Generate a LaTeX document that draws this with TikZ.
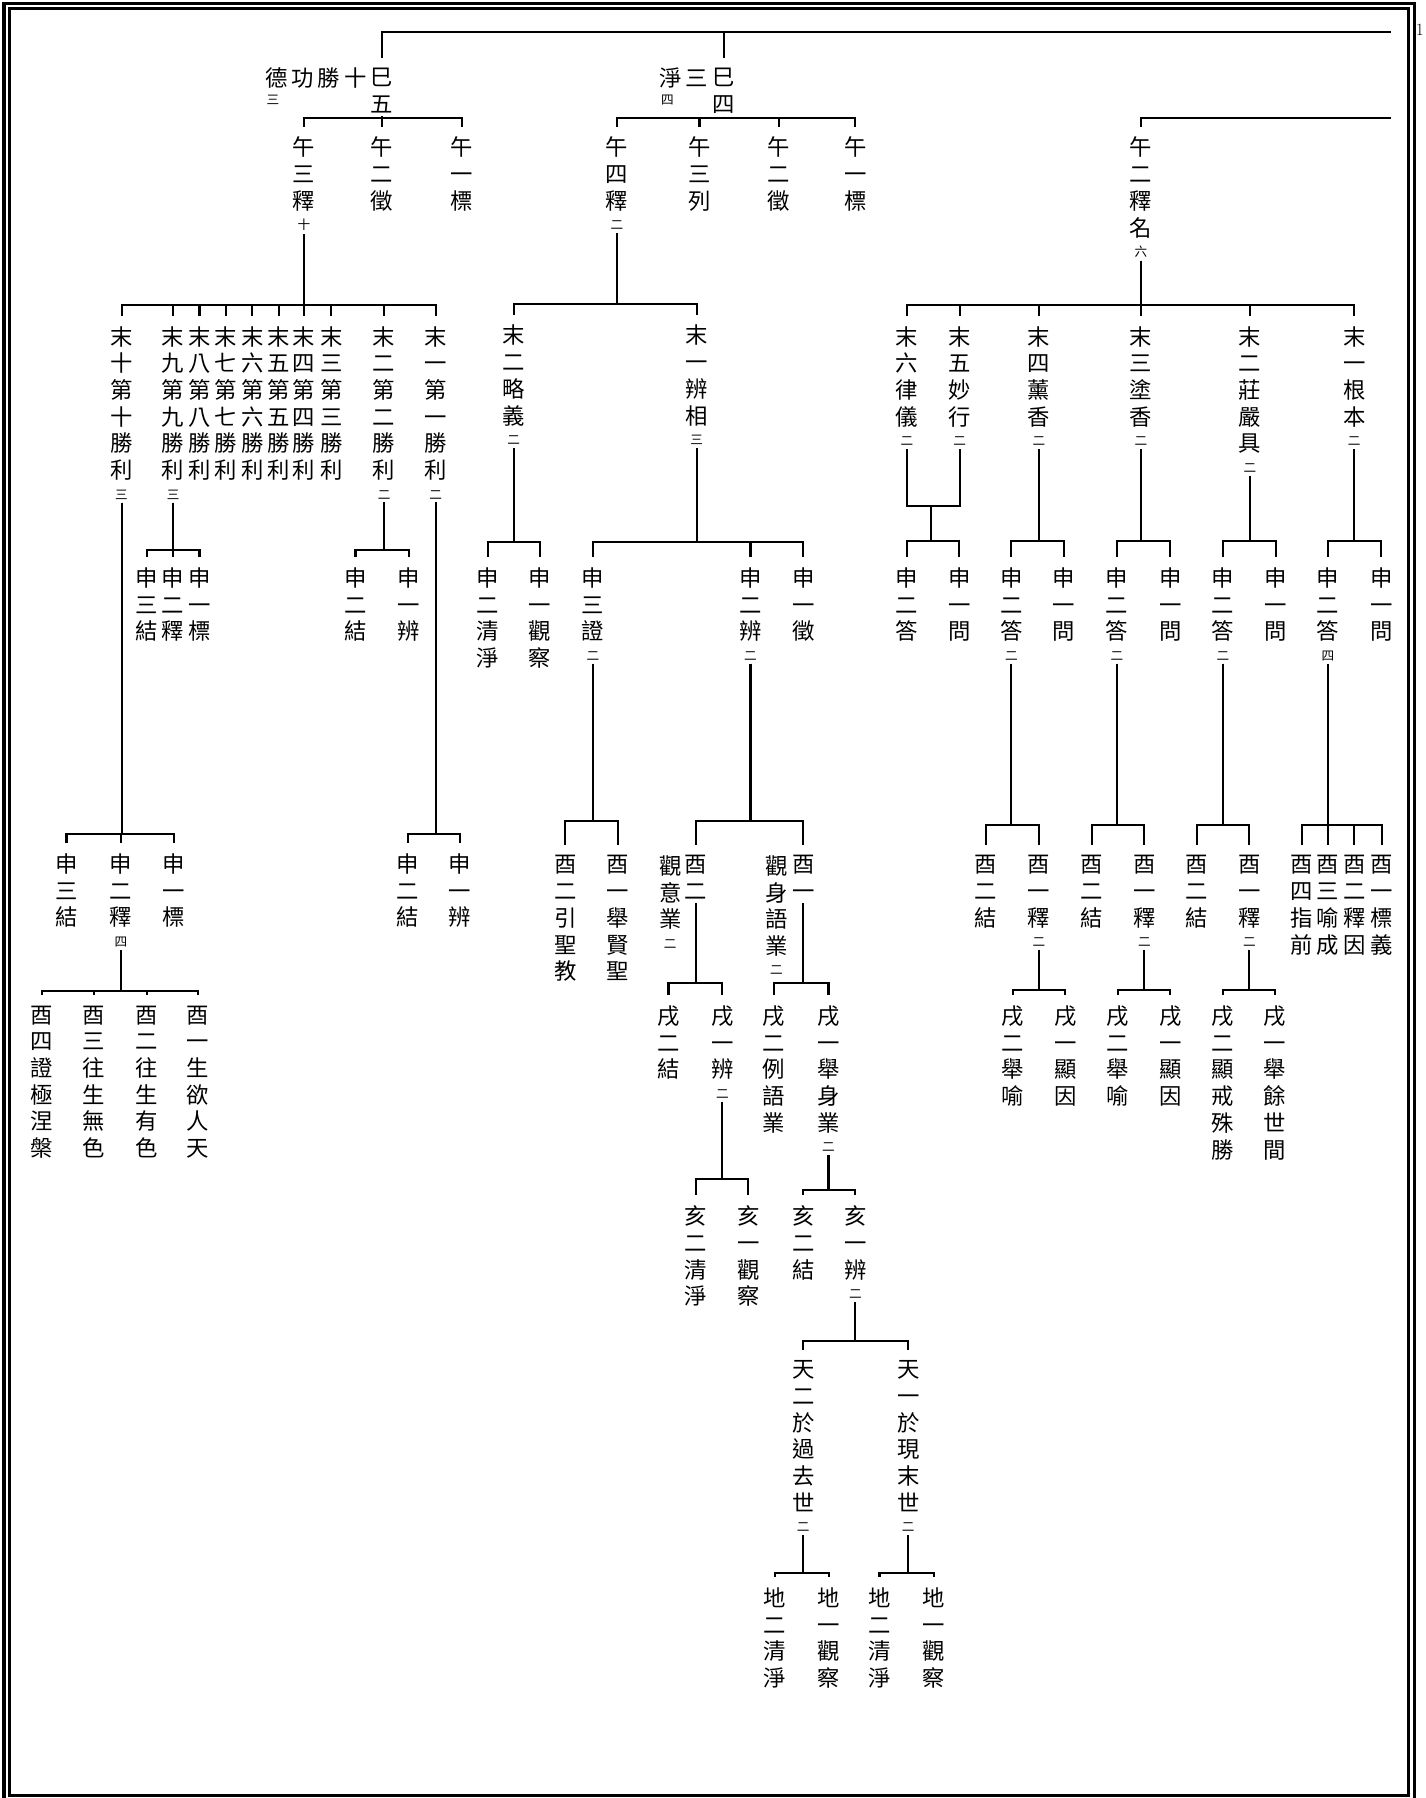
\documentclass[tikz,border=0pt]{standalone}
\usepackage{fontspec}
\newfontfamily\cjk{Noto Sans CJK TC}
\newcommand\sm[1]{\\[-5.5pt]{\fontsize{11}{12}\selectfont #1}}
\newcommand\hz[1]{\makebox[23pt]{#1}}
\tikzset{
  zi/.style={font=\cjk\fontsize{19.5}{23.3}\selectfont, align=center, inner sep=0pt, outer sep=3pt, anchor=north, yshift=11.5pt},
  hzi/.style={font=\cjk\fontsize{19.5}{23.3}\selectfont, inner sep=0pt},
  xs/.style={font=\cjk\fontsize{11}{12}\selectfont, inner sep=0pt}
}
\begin{document}
\begin{tikzpicture}[x=1pt,y=-1pt,line width=1.8pt]
\useasboundingbox (0,0) rectangle (1243,1568);
\fill[white] (0,0) rectangle (1243,1568);
\draw[line width=2.8pt] (3.5,1580) -- (3.5,3) -- (1233.5,3) -- (1233.5,1580);
\draw[line width=2.8pt] (8.5,7.5) rectangle (1228.5,1565.5);
\node[font=\fontsize{15}{15}\selectfont, anchor=east, inner sep=0pt] (pg) at (1242.5,26) {1};

\node[zi] (s5) at (333,68) {巳\\五};
\node[hzi] (s5t) at (275.5,68) {\hz{德}\hz{功}\hz{勝}\hz{十}};
\node[xs] (s5n) at (238,87) {三};
\node[zi] (s4) at (631,68) {巳\\四};
\node[hzi] (s4t) at (596,68) {\hz{淨}\hz{三}};
\node[xs] (s4n) at (582,87) {四};
\coordinate (r0) at (1213,28);
\draw (r0) -| ([yshift=6pt]s5.north);
\draw (s4.north |- r0) -- ([yshift=6pt]s4.north);

\node[zi] (w3) at (265,128) {午\\三\\釋\sm{十}};
\node[zi] (w2) at (333,128) {午\\二\\徵};
\node[zi] (w1) at (403,128) {午\\一\\標};
\foreach \c in {w3,w2,w1} \draw (s5.south) |- (\c.north |- 0,103) -- ([yshift=6pt]\c.north);
\node[zi] (v4) at (538,128) {午\\四\\釋\sm{二}};
\node[zi] (v3) at (610,128) {午\\三\\列};
\node[zi] (v2) at (679,128) {午\\二\\徵};
\node[zi] (v1) at (746,128) {午\\一\\標};
\foreach \c in {v4,v3,v2,v1} \draw (s4.south) |- (\c.north |- 0,103) -- ([yshift=6pt]\c.north);
\node[zi] (u2) at (995,128) {午\\二\\釋\\名\sm{六}};
\coordinate (r1) at (1213,103);
\draw (r1) -| ([yshift=6pt]u2.north);

\node[zi] (m10) at (106,293) {末\\十\\第\\十\\勝\\利\sm{三}};
\node[zi] (m9) at (151,293) {末\\九\\第\\九\\勝\\利\sm{三}};
\node[zi] (m8) at (174,293) {末\\八\\第\\八\\勝\\利};
\node[zi] (m7) at (197,293) {末\\七\\第\\七\\勝\\利};
\node[zi] (m6) at (220,293) {末\\六\\第\\六\\勝\\利};
\node[zi] (m5) at (243,293) {末\\五\\第\\五\\勝\\利};
\node[zi] (m4) at (265,293) {末\\四\\第\\四\\勝\\利};
\node[zi] (m3) at (289,293) {末\\三\\第\\三\\勝\\利};
\node[zi] (m2) at (335,293) {末\\二\\第\\二\\勝\\利\sm{二}};
\node[zi] (m1) at (380,293) {末\\一\\第\\一\\勝\\利\sm{二}};
\foreach \c in {m10,m9,m8,m7,m6,m5,m4,m3,m2,m1} \draw (w3.south) |- (\c.north |- 0,266) -- ([yshift=6pt]\c.north);

\node[zi] (m10c) at (58,753) {申\\三\\結};
\node[zi] (m10b) at (105.5,753) {申\\二\\釋\sm{四}};
\node[zi] (m10a) at (151.5,753) {申\\一\\標};
\foreach \c in {m10c,m10b,m10a} \draw (m10.south) |- (\c.north |- 0,727) -- ([yshift=6pt]\c.north);
\node[zi] (m10b4) at (36.5,885.5) {酉\\四\\證\\極\\涅\\槃};
\node[zi] (m10b3) at (82,885.5) {酉\\三\\往\\生\\無\\色};
\node[zi] (m10b2) at (128,885.5) {酉\\二\\往\\生\\有\\色};
\node[zi] (m10b1) at (172.5,885.5) {酉\\一\\生\\欲\\人\\天};
\foreach \c in {m10b4,m10b3,m10b2,m10b1} \draw (m10b.south) |- (\c.north |- 0,864) -- ([yshift=6pt]\c.north);

\node[zi] (m9c) at (128,503.5) {申\\三\\結};
\node[zi] (m9b) at (151,503.5) {申\\二\\釋};
\node[zi] (m9a) at (174,503.5) {申\\一\\標};
\foreach \c in {m9c,m9b,m9a} \draw (m9.south) |- (\c.north |- 0,480) -- ([yshift=6pt]\c.north);
\node[zi] (m2b) at (310,503.5) {申\\二\\結};
\node[zi] (m2a) at (356.5,503.5) {申\\一\\辨};
\foreach \c in {m2b,m2a} \draw (m2.south) |- (\c.north |- 0,480) -- ([yshift=6pt]\c.north);
\node[zi] (m1b) at (355.5,753) {申\\二\\結};
\node[zi] (m1a) at (401,753) {申\\一\\辨};
\foreach \c in {m1b,m1a} \draw (m1.south) |- (\c.north |- 0,727) -- ([yshift=6pt]\c.north);

\node[zi] (n2) at (448,292) {末\\二\\略\\義\sm{二}};
\node[zi] (n1) at (607.5,292) {末\\一\\辨\\相\sm{三}};
\foreach \c in {n2,n1} \draw (v4.south) |- (\c.north |- 0,265) -- ([yshift=6pt]\c.north);
\node[zi] (n2b) at (425.5,503.5) {申\\二\\清\\淨};
\node[zi] (n2a) at (471,503.5) {申\\一\\觀\\察};
\foreach \c in {n2b,n2a} \draw (n2.south) |- (\c.north |- 0,472.5) -- ([yshift=6pt]\c.north);
\node[zi] (n1c) at (517,503.5) {申\\三\\證\sm{二}};
\node[zi] (n1b) at (654.5,503.5) {申\\二\\辨\sm{二}};
\node[zi] (n1a) at (700.5,503.5) {申\\一\\徵};
\foreach \c in {n1c,n1b,n1a} \draw (n1.south) |- (\c.north |- 0,472.5) -- ([yshift=6pt]\c.north);
\node[zi] (n1c2) at (493,754.6) {酉\\二\\引\\聖\\教};
\node[zi] (n1c1) at (539,754.6) {酉\\一\\舉\\賢\\聖};
\foreach \c in {n1c2,n1c1} \draw (n1c.south) |- (\c.north |- 0,716) -- ([yshift=6pt]\c.north);
\node[zi] (y2) at (607,754.6) {酉\\二};
\node[zi] (y2t) at (584.5,754.6) {觀\\意\\業\sm{二}};
\node[zi] (y1) at (700.5,754.6) {酉\\一};
\node[zi] (y1t) at (677,754.6) {觀\\身\\語\\業\sm{二}};
\foreach \c in {y2,y1} \draw (n1b.south) |- (\c.north |- 0,716) -- ([yshift=6pt]\c.north);
\node[zi] (z2) at (583,885.5) {戌\\二\\結};
\node[zi] (z1) at (630,885.5) {戌\\一\\辨\sm{二}};
\foreach \c in {z2,z1} \draw (y2.south) |- (\c.north |- 0,857.6) -- ([yshift=6pt]\c.north);
\node[zi] (z4) at (675,885.5) {戌\\二\\例\\語\\業};
\node[zi] (z3) at (722.5,885.5) {戌\\一\\舉\\身\\業\sm{二}};
\foreach \c in {z4,z3} \draw (y1.south) |- (\c.north |- 0,857.6) -- ([yshift=6pt]\c.north);
\node[zi] (h2) at (607,1060) {亥\\二\\清\\淨};
\node[zi] (h1) at (652.5,1060) {亥\\一\\觀\\察};
\foreach \c in {h2,h1} \draw (z1.south) |- (\c.north |- 0,1028.5) -- ([yshift=6pt]\c.north);
\node[zi] (h4) at (700.5,1060) {亥\\二\\結};
\node[zi] (h3) at (746,1060) {亥\\一\\辨\sm{二}};
\foreach \c in {h4,h3} \draw (z3.south) |- (\c.north |- 0,1038) -- ([yshift=6pt]\c.north);
\node[zi] (t2) at (700.5,1195) {天\\二\\於\\過\\去\\世\sm{二}};
\node[zi] (t1) at (792,1195) {天\\一\\於\\現\\末\\世\sm{二}};
\foreach \c in {t2,t1} \draw (h3.south) |- (\c.north |- 0,1169.8) -- ([yshift=6pt]\c.north);
\node[zi] (e2) at (676,1393) {地\\二\\清\\淨};
\node[zi] (e1) at (723,1393) {地\\一\\觀\\察};
\foreach \c in {e2,e1} \draw (t2.south) |- (\c.north |- 0,1372) -- ([yshift=6pt]\c.north);
\node[zi] (e4) at (767,1393) {地\\二\\清\\淨};
\node[zi] (e3) at (814.5,1393) {地\\一\\觀\\察};
\foreach \c in {e4,e3} \draw (t1.south) |- (\c.north |- 0,1372) -- ([yshift=6pt]\c.north);

\node[zi] (k6) at (791,293) {末\\六\\律\\儀\sm{二}};
\node[zi] (k5) at (837,293) {末\\五\\妙\\行\sm{二}};
\node[zi] (k4) at (906,293) {末\\四\\薰\\香\sm{二}};
\node[zi] (k3) at (995,293) {末\\三\\塗\\香\sm{二}};
\node[zi] (k2) at (1090,293) {末\\二\\莊\\嚴\\具\sm{二}};
\node[zi] (k1) at (1181,293) {末\\一\\根\\本\sm{二}};
\foreach \c in {k6,k5,k4,k3,k2,k1} \draw (u2.south) |- (\c.north |- 0,266) -- ([yshift=6pt]\c.north);
\coordinate (jn) at (811.5,441);
\draw (k6.south) |- (jn) -| (k5.south);
\node[zi] (k6b) at (791,503.5) {申\\二\\答};
\node[zi] (k6a) at (836.5,503.5) {申\\一\\問};
\foreach \c in {k6b,k6a} \draw (jn) |- (\c.north |- 0,472) -- ([yshift=6pt]\c.north);
\node[zi] (k4b) at (882,503.5) {申\\二\\答\sm{二}};
\node[zi] (k4a) at (928,503.5) {申\\一\\問};
\foreach \c in {k4b,k4a} \draw (k4.south) |- (\c.north |- 0,472) -- ([yshift=6pt]\c.north);
\node[zi] (k3b) at (974,503.5) {申\\二\\答\sm{二}};
\node[zi] (k3a) at (1020.5,503.5) {申\\一\\問};
\foreach \c in {k3b,k3a} \draw (k3.south) |- (\c.north |- 0,472) -- ([yshift=6pt]\c.north);
\node[zi] (k2b) at (1066.5,503.5) {申\\二\\答\sm{二}};
\node[zi] (k2a) at (1112.5,503.5) {申\\一\\問};
\foreach \c in {k2b,k2a} \draw (k2.south) |- (\c.north |- 0,472) -- ([yshift=6pt]\c.north);
\node[zi] (k1b) at (1158,503.5) {申\\二\\答\sm{四}};
\node[zi] (k1a) at (1204.5,503.5) {申\\一\\問};
\foreach \c in {k1b,k1a} \draw (k1.south) |- (\c.north |- 0,472) -- ([yshift=6pt]\c.north);

\node[zi] (p4b) at (860,754.6) {酉\\二\\結};
\node[zi] (p4a) at (906,754.6) {酉\\一\\釋\sm{二}};
\foreach \c in {p4b,p4a} \draw (k4b.south) |- (\c.north |- 0,719.6) -- ([yshift=6pt]\c.north);
\node[zi] (p3b) at (952,754.6) {酉\\二\\結};
\node[zi] (p3a) at (998,754.6) {酉\\一\\釋\sm{二}};
\foreach \c in {p3b,p3a} \draw (k3b.south) |- (\c.north |- 0,719.6) -- ([yshift=6pt]\c.north);
\node[zi] (p2b) at (1044,754.6) {酉\\二\\結};
\node[zi] (p2a) at (1089.5,754.6) {酉\\一\\釋\sm{二}};
\foreach \c in {p2b,p2a} \draw (k2b.south) |- (\c.north |- 0,719.6) -- ([yshift=6pt]\c.north);
\node[zi] (p1d) at (1135.5,754.6) {酉\\四\\指\\前};
\node[zi] (p1c) at (1158,754.6) {酉\\三\\喻\\成};
\node[zi] (p1b) at (1181,754.6) {酉\\二\\釋\\因};
\node[zi] (p1a) at (1205,754.6) {酉\\一\\標\\義};
\foreach \c in {p1d,p1c,p1b,p1a} \draw (k1b.south) |- (\c.north |- 0,719.6) -- ([yshift=6pt]\c.north);
\node[zi] (q4b) at (883.5,885.5) {戌\\二\\舉\\喻};
\node[zi] (q4a) at (929,885.5) {戌\\一\\顯\\因};
\foreach \c in {q4b,q4a} \draw (p4a.south) |- (\c.north |- 0,863.6) -- ([yshift=6pt]\c.north);
\node[zi] (q3b) at (975,885.5) {戌\\二\\舉\\喻};
\node[zi] (q3a) at (1020.5,885.5) {戌\\一\\顯\\因};
\foreach \c in {q3b,q3a} \draw (p3a.south) |- (\c.north |- 0,863.6) -- ([yshift=6pt]\c.north);
\node[zi] (q2b) at (1066.5,885.5) {戌\\二\\顯\\戒\\殊\\勝};
\node[zi] (q2a) at (1112,885.5) {戌\\一\\舉\\餘\\世\\間};
\foreach \c in {q2b,q2a} \draw (p2a.south) |- (\c.north |- 0,863.6) -- ([yshift=6pt]\c.north);
\end{tikzpicture}
\end{document}
